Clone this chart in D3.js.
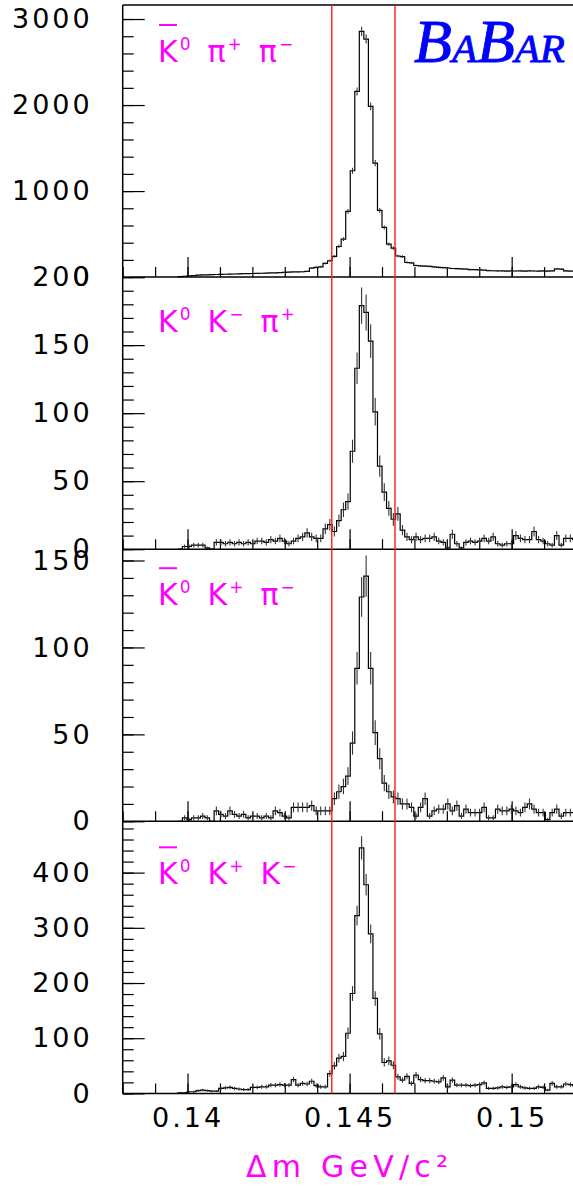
<!DOCTYPE html>
<html>
<head>
<meta charset="utf-8">
<script src="https://cdnjs.cloudflare.com/ajax/libs/d3/7.8.5/d3.min.js"></script>
<style>
  body { margin: 0; background: #fff; }
  svg { display: block; }
</style>
</head>
<body>
<script>
// histogram binning: bin k covers [binLow + k*binWidth, binLow + (k+1)*binWidth]
const binLow = 0.139;
const binWidth = 0.00014;
const firstBin = 5;

// counts per bin, from bin 5 on
const countsKsPiPi = [
  5, 10, 15, 18, 22, 25, 26, 28, 30, 32,
  33, 35, 36, 38, 40, 40, 42, 44, 45, 47,
  48, 50, 52, 55, 57, 60, 60, 62, 66, 105,
  112, 120, 160, 190, 240, 356, 442, 763, 1236, 2158,
  2856, 2767, 1984, 1326, 775, 577, 384, 337, 245, 238,
  170, 165, 135, 130, 128, 125, 118, 112, 110, 106,
  100, 99, 95, 92, 88, 86, 84, 80, 76, 74,
  72, 73, 70, 72, 71, 72, 70, 73, 71, 70,
  72, 70, 72, 95, 93, 72, 70, 71
];
const countsKsKmPip = [
  0, 2, 2, 3, 3, 3, 1, 0, 5, 5,
  4, 5, 4, 5, 4, 5, 4, 6, 6, 5,
  7, 6, 8, 6, 4, 6, 8, 9, 12, 9,
  8, 8, 15, 18, 13, 21, 29, 35, 72, 133,
  179, 174, 153, 101, 61, 42, 30, 22, 26, 14,
  9, 7, 9, 7, 8, 8, 9, 6, 5, 1,
  11, 4, 1, 5, 6, 5, 6, 8, 6, 9,
  4, 3, 4, 4, 10, 8, 7, 7, 13, 7,
  6, 4, 3, 10, 3, 8, 8, 7
];
const countsKsKpPim = [
  0, 2, 1, 2, 2, 3, 2, 0, 6, 4,
  3, 6, 4, 3, 4, 2, 3, 3, 2, 3,
  2, 6, 5, 3, 2, 8, 8, 8, 8, 9,
  6, 6, 6, 6, 13, 17, 20, 26, 45, 88,
  129, 141, 88, 51, 36, 22, 17, 14, 13, 10,
  10, 8, 3, 8, 13, 3, 6, 7, 7, 10,
  6, 9, 3, 7, 5, 5, 5, 8, 2, 2,
  7, 6, 6, 7, 6, 5, 8, 10, 7, 5,
  5, 1, 5, 7, 3, 5, 5, 5
];
const countsKsKpKm = [
  1, 1, 3, 3, 5, 6, 5, 4, 4, 9,
  10, 11, 9, 8, 7, 7, 11, 11, 12, 12,
  15, 15, 16, 15, 15, 25, 15, 18, 17, 22,
  14, 12, 12, 36, 50, 64, 67, 109, 181, 322,
  445, 378, 289, 172, 108, 56, 59, 51, 30, 24,
  31, 18, 33, 25, 23, 23, 22, 21, 28, 12,
  24, 15, 15, 15, 14, 15, 16, 19, 9, 9,
  10, 12, 11, 12, 16, 12, 10, 9, 9, 12,
  11, 6, 18, 12, 12, 17, 16, 14
];

// axis ranges and ticks
const xDomain = [0.138, 0.152];
const xTicks = [0.14, 0.145, 0.15];
const yMaxes = [3163, 200, 156.5, 493];
const yTicksKsPiPi = [0, 1000, 2000, 3000];
const yTicksKsKmPip = [0, 50, 100, 150, 200];
const yTicksKsKpPim = [0, 50, 100, 150];
const yTicksKsKpKm = [0, 100, 200, 300, 400];
const yMinorSteps = [200, 10, 10, 20];

// signal window
const cutLow = 0.14445;
const cutHigh = 0.1464;

// channel labels: [particle, superscript, has bar]
const labelKsPiPi = [["K", "0", true], ["π", "+"], ["π", "−"]];
const labelKsKmPip = [["K", "0"], ["K", "−"], ["π", "+"]];
const labelKsKpPim = [["K", "0", true], ["K", "+"], ["π", "−"]];
const labelKsKpKm = [["K", "0", true], ["K", "+"], ["K", "−"]];

const panels = [
  {counts: countsKsPiPi, yMax: yMaxes[0], ticks: yTicksKsPiPi, minor: yMinorSteps[0], label: labelKsPiPi, labelDy: 57},
  {counts: countsKsKmPip, yMax: yMaxes[1], ticks: yTicksKsKmPip, minor: yMinorSteps[1], label: labelKsKmPip, labelDy: 55},
  {counts: countsKsKpPim, yMax: yMaxes[2], ticks: yTicksKsKpPim, minor: yMinorSteps[2], label: labelKsKpPim, labelDy: 56},
  {counts: countsKsKpKm, yMax: yMaxes[3], ticks: yTicksKsKpKm, minor: yMinorSteps[3], label: labelKsKpKm, labelDy: 63}
];

const width = 573;
const height = 1186;
const plotLeft = 122.7;
const plotRight = 576.5;
const plotTop = 5;
const panelH = 272.1;
const plotBottom = plotTop + panelH * panels.length;
const magenta = "#ff00ff";
const font = "'DejaVu Sans', sans-serif";

let x = d3.scaleLinear().domain(xDomain).range([plotLeft, plotRight]);

let svg = d3.select("body")
  .append("svg")
    .attr("width", width)
    .attr("height", height)
    .style("font-family", font);

function drawLabel(g, parts, x0, baseline) {
  let t = g.append("text")
      .attr("x", x0)
      .attr("y", baseline)
      .attr("fill", magenta)
      .attr("font-size", 30)
  parts.forEach((p, i) => {
    t.append("tspan")
      .attr("dx", i ? 17 : 0)
      .attr("dy", i ? 12 : 0)
      .text(p[0]);
    t.append("tspan")
      .attr("font-size", 17)
      .attr("dx", 2)
      .attr("dy", -12)
      .text(p[1]);
  });
  if (parts[0][2]) {
    g.append("line")
      .attr("x1", x0 + 1).attr("x2", x0 + 19)
      .attr("y1", baseline - 37).attr("y2", baseline - 37)
      .attr("stroke", magenta)
      .attr("stroke-width", 2);
  }
}

panels.forEach((p, i) => {
  const y0 = plotTop + i * panelH;
  const y1 = y0 + panelH;
  let y = d3.scaleLinear().domain([0, p.yMax]).range([y1, y0]);
  let g = svg.append("g");

  // y ticks (pointing inward)
  g.append("g")
      .attr("transform", `translate(${plotLeft},0)`)
    .call(d3.axisLeft(y).tickValues(d3.range(0, p.yMax, p.minor)).tickSize(-11).tickFormat(""))
    .call(a => a.select(".domain").remove());
  g.append("g")
      .attr("transform", `translate(${plotLeft},0)`)
    .call(d3.axisLeft(y).tickValues(p.ticks).tickSize(-22).tickPadding(30).tickFormat(d3.format("d")))
    .call(a => a.select(".domain").remove())
    .call(a => a.selectAll("text")
      .attr("font-family", font)
      .attr("font-size", 27)
      .attr("letter-spacing", 3)
      .attr("fill", "#000"));

  // x ticks at the bottom of each panel (pointing up)
  let minorX = d3.range(138, 153).map(v => v / 1000);
  g.append("g")
      .attr("transform", `translate(0,${y1})`)
    .call(d3.axisBottom(x).tickValues(minorX).tickSize(-10).tickFormat(""))
    .call(a => a.select(".domain").remove());
  let xAxis = g.append("g")
      .attr("transform", `translate(0,${y1})`)
    .call(d3.axisBottom(x).tickValues(xTicks).tickSize(-20).tickPadding(14)
      .tickFormat(i === panels.length - 1 ? d3.format("") : ""))
    .call(a => a.select(".domain").remove());
  xAxis.selectAll("text")
      .attr("font-family", font)
      .attr("font-size", 27)
      .attr("letter-spacing", 3)
      .attr("fill", "#000");
  g.selectAll(".tick line").attr("stroke", "#000").attr("stroke-width", 1.2);

  // histogram outline
  let pts = p.counts.map((c, j) => [binLow + (firstBin + j) * binWidth, c]);
  pts.unshift([pts[0][0], 0]);
  pts.push([binLow + (firstBin + p.counts.length) * binWidth, p.counts[p.counts.length - 1]]);
  let line = d3.line()
    .x(d => x(d[0]))
    .y(d => y(d[1]))
    .curve(d3.curveStepAfter);
  g.append("path")
    .datum(pts)
      .attr("d", line)
      .attr("fill", "none")
      .attr("stroke", "#000")
      .attr("stroke-width", 1.2);

  // error bars
  g.selectAll("line.err")
    .data(p.counts.map((c, j) => ({c: c, lo: binLow + (firstBin + j) * binWidth})).filter(d => d.c > 0))
    .enter()
    .append("line")
      .attr("class", "err")
      .attr("x1", d => x(d.lo + binWidth / 2))
      .attr("x2", d => x(d.lo + binWidth / 2))
      .attr("y1", d => y(d.c - Math.sqrt(d.c)))
      .attr("y2", d => y(d.c + Math.sqrt(d.c)))
      .attr("stroke", "#333")
      .attr("stroke-width", 1.1);

  // panel frame line
  g.append("line")
      .attr("x1", plotLeft).attr("x2", plotRight)
      .attr("y1", y1).attr("y2", y1)
      .attr("stroke", "#000")
      .attr("stroke-width", 1.5);

  drawLabel(g, p.label, 158, y0 + p.labelDy);
});

// outer frame
svg.append("line")
    .attr("x1", plotLeft).attr("x2", plotRight)
    .attr("y1", plotTop).attr("y2", plotTop)
    .attr("stroke", "#000").attr("stroke-width", 1.5);
svg.append("line")
    .attr("x1", plotLeft).attr("x2", plotLeft)
    .attr("y1", plotTop).attr("y2", plotBottom)
    .attr("stroke", "#000").attr("stroke-width", 1.5);

// signal window
svg.selectAll(".cut")
  .data([cutLow, cutHigh])
  .enter()
  .append("line")
    .attr("class", "cut")
    .attr("x1", d => x(d)).attr("x2", d => x(d))
    .attr("y1", plotTop).attr("y2", plotBottom)
    .attr("stroke", "#ff1a1a")
    .attr("stroke-width", 1.4);

// x title
svg.append("text")
    .attr("x", 246)
    .attr("y", 1177)
    .attr("fill", magenta)
    .attr("font-size", 30)
    .attr("textLength", 202)
    .attr("lengthAdjust", "spacing")
    .text("Δm GeV/c²");

// BaBar logo
let logo = svg.append("text")
    .attr("x", 414)
    .attr("y", 61.7)
    .attr("fill", "#0000ff")
    .attr("stroke", "#0000ff")
    .attr("stroke-width", 0.9)
    .attr("font-family", "'Liberation Serif', serif")
    .attr("font-style", "italic");
[["B", 62], ["A", 41], ["B", 62], ["AR", 41]].forEach(d => {
  logo.append("tspan").attr("font-size", d[1]).text(d[0]);
});
</script>
</body>
</html>
